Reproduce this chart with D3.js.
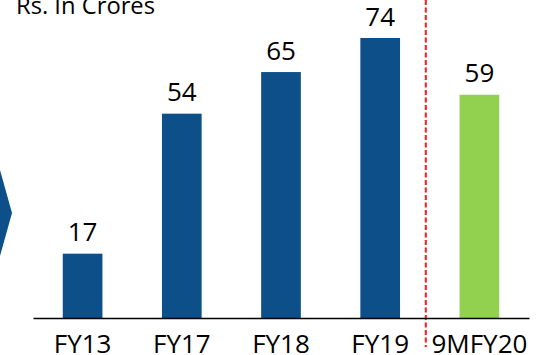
<!DOCTYPE html>
<html>
<head>
<meta charset="utf-8">
<script src="https://cdn.jsdelivr.net/npm/d3@7"></script>
<style>
  html, body { margin: 0; padding: 0; background: #fff; }
  svg { display: block; }
  text { font-family: "Open Sans", "Liberation Sans", sans-serif; fill: #000; }
</style>
</head>
<body>
<script>
// Revenue by fiscal period (Rs. in crores)
const categories = ["FY13", "FY17", "FY18", "FY19", "9MFY20"];
const values = [17, 54, 65, 74, 59];
const barColors = ["#0c4f89", "#0c4f89", "#0c4f89", "#0c4f89", "#92d050"];
const unitLabel = "Rs. In Crores";

const W = 541, H = 355;
const baseY = 318;

const svg = d3.select("body").append("svg")
  .attr("width", W).attr("height", H);

const x = d3.scaleBand()
  .domain(categories)
  .range([33, 529])
  .paddingInner(0.6)
  .paddingOuter(0.3);

const y = d3.scaleLinear()
  .domain([0, 74])
  .range([baseY, 38]);

// Chevron marker on the left edge
svg.append("path")
  .attr("d", "M0,170 L12,213 L0,256 Z")
  .attr("fill", "#0c4f89");

// Unit caption
svg.append("text")
  .attr("x", 16)
  .attr("y", 14)
  .attr("font-size", 24)
  .attr("textLength", 139)
  .attr("lengthAdjust", "spacingAndGlyphs")
  .text(unitLabel);

// Bars
svg.append("g").selectAll("rect")
  .data(values)
  .join("rect")
  .attr("x", (d, i) => x(categories[i]))
  .attr("y", d => y(d))
  .attr("width", x.bandwidth())
  .attr("height", d => baseY - y(d))
  .attr("fill", (d, i) => barColors[i]);

// Value labels
svg.append("g").selectAll("text")
  .data(values)
  .join("text")
  .attr("x", (d, i) => x(categories[i]) + x.bandwidth() / 2)
  .attr("y", d => y(d) - 12.5)
  .attr("text-anchor", "middle")
  .attr("font-size", 26)
  .text(d => d);

// Divider between full years and the nine-month period
const divX = (x("FY19") + x.bandwidth() + x("9MFY20")) / 2 - 4;
svg.append("line")
  .attr("x1", divX).attr("x2", divX)
  .attr("y1", 0).attr("y2", 347)
  .attr("stroke", "#ff1a1a")
  .attr("stroke-width", 2)
  .attr("stroke-dasharray", "5,2.5");

// Category axis
const axis = svg.append("g")
  .attr("transform", `translate(0,${baseY})`)
  .call(d3.axisBottom(x).tickSize(0).tickPadding(10).tickSizeOuter(0));
axis.select(".domain")
  .attr("stroke", "#000")
  .attr("stroke-width", 1.5);
axis.selectAll(".tick text")
  .attr("font-size", 26)
  .attr("font-family", "'Open Sans', 'Liberation Sans', sans-serif")
  .attr("fill", "#000")
  .attr("dy", null)
  .attr("y", 34.5);
</script>
</body>
</html>
